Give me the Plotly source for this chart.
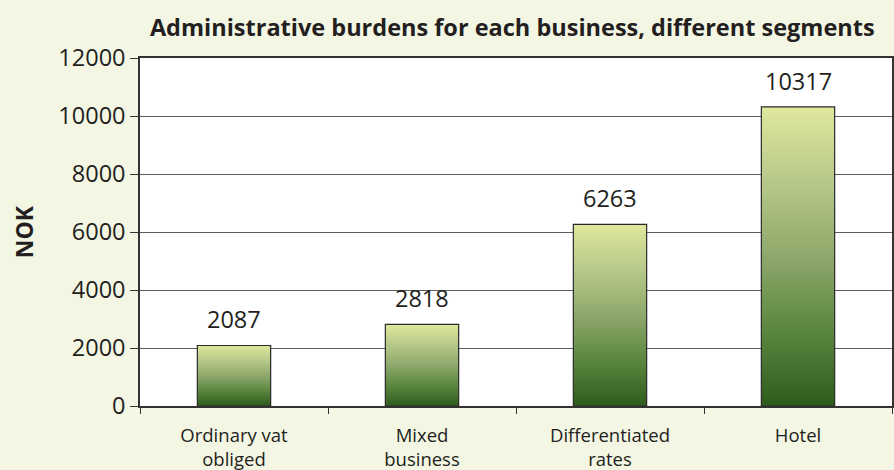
import plotly.graph_objects as go

categories = ["Ordinary vat<br>obliged", "Mixed<br>business", "Differentiated<br>rates", "Hotel"]
values = [2087, 2818, 6263, 10317]
y_ticks = [0, 2000, 4000, 6000, 8000, 10000, 12000]
y_tick_text = ["0", "2000", "4000", "6000", "8000", "10000", "12000"]

title = "Administrative burdens for each business, different segments"
y_title = "NOK"

BAR_W = 0.39
FONT = "Open Sans"
TXT = "#231f20"

fig = go.Figure()

# gradient bodies of bars
for i, v in enumerate(values):
    x0, x1 = i - BAR_W / 2, i + BAR_W / 2
    fig.add_trace(go.Scatter(
        x=[x0, x1, x1, x0, x0], y=[0, 0, v, v, 0],
        mode="lines", fill="toself",
        fillgradient=dict(type="vertical",
                          colorscale=[[0, "#2d5c1a"], [0.25, "#5a8640"], [0.5, "#8ea86b"],
                                      [0.75, "#b7c98a"], [1, "#dfe79c"]]),
        line=dict(color="#2a2a2a", width=1.2),
        hoverinfo="skip", showlegend=False,
    ))

annotations = [dict(text="<b>" + y_title + "</b>", xref="paper", yref="paper",
                    x=-0.154, y=0.5, xanchor="center", yanchor="middle", textangle=-90,
                    showarrow=False, font=dict(family=FONT, size=23, color=TXT))]
# value labels
for i, v in enumerate(values):
    annotations.append(dict(text=str(v), x=i, y=v, xref="x", yref="y",
                            xanchor="center", yanchor="bottom", yshift=8, showarrow=False,
                            font=dict(family=FONT, size=23.5, color=TXT)))

fig.update_layout(
    width=894, height=470,
    paper_bgcolor="#f4f6e4", plot_bgcolor="#ffffff",
    margin=dict(l=140, r=2, t=58, b=64, autoexpand=False),
    title=dict(text="<b>" + title + "</b>", x=0.573, xanchor="center", y=0.94, yanchor="middle",
               font=dict(family=FONT, size=23.5, color=TXT)),
    font=dict(family=FONT, color=TXT),
    showlegend=False,
    annotations=annotations,
)

fig.update_xaxes(
    range=[-0.5, len(values) - 0.5], automargin=False,
    tickmode="array", tickvals=list(range(len(values))), ticktext=categories,
    ticks="", showgrid=False, zeroline=False, ticklabelstandoff=12,
    showline=True, linecolor="#333333", linewidth=1.5, mirror=True,
    tickfont=dict(family=FONT, size=18.5, color=TXT),
    minor=dict(tickmode="linear", tick0=-0.5, dtick=1, ticks="outside", ticklen=6,
               tickcolor="#333333", tickwidth=1.2, showgrid=False),
)

fig.update_yaxes(
    range=[0, 12000], tickmode="array", tickvals=y_ticks, ticktext=y_tick_text,
    automargin=False,
    ticks="outside", ticklen=8, tickcolor="#333333", tickwidth=1.2,
    showgrid=True, gridcolor="#5e5e5e", gridwidth=1, zeroline=False,
    showline=True, linecolor="#333333", linewidth=1.5, mirror=True,
    tickfont=dict(family=FONT, size=23.5, color=TXT),
)

fig.write_html("out.html", config={"displayModeBar": False},
               post_script="document.body.style.margin='0';document.body.style.overflow='hidden';")
